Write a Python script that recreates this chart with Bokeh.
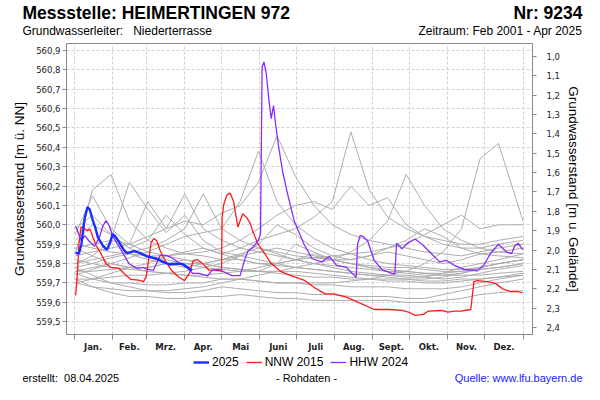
import math
from bokeh.plotting import figure
from bokeh.layouts import column
from bokeh.models import (Range1d, LinearAxis, FixedTicker, CustomJSTickFormatter,
                          Legend, LegendItem)
from bokeh.core.properties import value
from bokeh.embed import file_html
from bokeh.resources import INLINE

# ---------------- data ----------------
month_labels = ["Jan.", "Feb.", "Mrz.", "Apr.", "Mai", "Juni", "Juli",
                "Aug.", "Sept.", "Okt.", "Nov.", "Dez."]
month_starts = [0, 31, 59, 90, 120, 151, 181, 212, 243, 273, 304, 334, 365]
left_ticks = [559.5, 559.6, 559.7, 559.8, 559.9, 560.0, 560.1, 560.2,
              560.3, 560.4, 560.5, 560.6, 560.7, 560.8, 560.9]
right_ticks = [1.0, 1.1, 1.2, 1.3, 1.4, 1.5, 1.6, 1.7, 1.8, 1.9, 2.0,
               2.1, 2.2, 2.3, 2.4]
ground_level = 561.87

# 2025 (blue)
d2025 = [1.3, 4, 6, 8.8, 10.9, 12.8, 15.4, 17.3, 19.4, 23.4, 26.8, 29.5, 31.3,
         33.2, 36.7, 40.7, 43.3, 48.6, 54, 59.3, 67.2, 72.6, 77.9, 83.2, 88.5,
         92.5, 96]
v2025 = [559.856, 559.851, 559.90, 560.037, 560.091, 560.079, 560.02, 559.986,
         559.936, 559.893, 559.871, 559.91, 559.952, 559.944, 559.91, 559.868,
         559.854, 559.864, 559.854, 559.837, 559.825, 559.809, 559.795, 559.80,
         559.797, 559.78, 559.766]

# NNW 2015 (red)
d2015 = [1.3, 2.6, 4, 5.6, 8.2, 10.9, 13, 15.4, 18, 22, 26, 30, 36.7, 40.7,
         46, 52.6, 56.6, 58.7, 60.6, 62.7, 65, 67.2, 70, 74, 79.2, 84.5, 89.8,
         93.8, 97, 100.5, 104.5, 109.8, 113.8, 119.9, 120.4, 121.7, 124.4, 127,
         129.7, 133.2, 135, 137.2, 140.4, 143, 145.7, 149.7, 155, 160.3, 168.3,
         176.2, 186.9, 196.2, 204.2, 210.9, 221.5, 232, 244, 256, 266.6, 272,
         277.3, 284, 288, 298.5, 304, 309, 314.5, 322.5, 325.1, 327.8, 335.8,
         342.4, 349, 354.4, 361, 364.5]
v2015 = [559.636, 559.733, 559.90, 559.989, 559.983, 559.969, 559.978, 559.936,
         559.893, 559.851, 559.80, 559.78, 559.775, 559.749, 559.719, 559.715,
         559.707, 559.733, 559.817, 559.91, 559.93, 559.918, 559.868, 559.817,
         559.766, 559.733, 559.712, 559.749, 559.817, 559.82, 559.80, 559.766,
         559.766, 559.761, 560.037, 560.105, 560.155, 560.164, 560.121, 559.989,
         560.02, 560.057, 560.037, 560.011, 559.96, 559.90, 559.851, 559.80,
         559.758, 559.738, 559.715, 559.673, 559.644, 559.644, 559.627, 559.597,
         559.563, 559.563, 559.558, 559.55, 559.533, 559.538, 559.555, 559.558,
         559.55, 559.555, 559.555, 559.563, 559.707, 559.712, 559.707, 559.698,
         559.668, 559.656, 559.656, 559.648]

# HHW 2024 (purple)
d2024 = [1.3, 3.9, 6, 8.8, 12, 16.7, 20.7, 23.4, 26, 28.8, 31.3, 35.3, 39.3,
         44.7, 51.3, 56.6, 59.3, 64.6, 70, 75.3, 80.6, 87.2, 92.5, 96.5, 101.8,
         108.5, 112.5, 117.8, 123.1, 128.4, 135, 139, 141.7, 145.7, 149.7, 151.6,
         152.9, 154.4, 156.3, 158.4, 160.3, 162.2, 163.7, 166.2, 169.6, 173.6,
         179, 187, 193.5, 201.5, 207.6, 213.5, 221.5, 229.4, 230.5, 232.6, 235,
         238.8, 244, 250.7, 258.7, 260.8, 262.2, 266.6, 272, 277.3, 284, 290.6,
         297.2, 302.5, 309.2, 317.1, 327.8, 333.1, 338.4, 345, 351.8, 355.7,
         358.4, 361, 365]
v2024 = [559.994, 559.952, 559.918, 559.944, 559.918, 559.89, 559.936, 559.994,
         560.02, 559.994, 559.944, 559.90, 559.859, 559.80, 559.775, 559.78,
         559.77, 559.766, 559.842, 559.842, 559.825, 559.797, 559.775, 559.749,
         559.749, 559.736, 559.766, 559.77, 559.753, 559.738, 559.738, 559.825,
         559.868, 559.885, 559.918, 559.952, 560.815, 560.841, 560.781, 560.646,
         560.548, 560.616, 560.527, 560.409, 560.274, 560.16, 560.02, 559.90,
         559.825, 559.809, 559.837, 559.791, 559.78, 559.729, 559.90, 559.945,
         559.94, 559.915, 559.817, 559.766, 559.749, 559.745, 559.905, 559.876,
         559.91, 559.927, 559.893, 559.851, 559.809, 559.817, 559.791, 559.77,
         559.763, 559.791, 559.851, 559.90, 559.859, 559.851, 559.893, 559.905,
         559.871]

# other years 2001-2024 (grey), half-monthly readings
grey_days = [1, 15, 30, 45, 60, 75, 90, 105, 120, 135, 150, 165, 180, 195,
             210, 225, 240, 255, 270, 285, 300, 315, 330, 345, 365]
g01 = [559.72, 559.68, 559.65, 559.63, 559.63, 559.62, 559.62, 559.63, 559.63, 559.64,
       559.63, 559.62, 559.62, 559.61, 559.61, 559.61, 559.61, 559.61, 559.60, 559.60,
       559.61, 559.62, 559.64, 559.65, 559.66]
g02 = [559.78, 559.74, 559.70, 559.68, 559.66, 559.65, 559.65, 559.66, 559.68, 559.67,
       559.66, 559.65, 559.65, 559.64, 559.64, 559.63, 559.63, 559.63, 559.62, 559.62,
       559.64, 559.66, 559.68, 559.70, 559.72]
g03 = [559.85, 560.18, 560.26, 560.02, 559.92, 559.88, 559.85, 559.84, 559.82, 559.82,
       559.80, 559.79, 559.78, 559.77, 559.76, 559.75, 559.74, 559.74, 559.73, 559.73,
       559.72, 559.73, 559.75, 559.77, 559.79]
g04 = [559.80, 559.84, 559.92, 560.22, 560.08, 559.96, 560.05, 559.92, 559.86, 559.84,
       559.82, 559.80, 559.78, 559.77, 559.76, 559.75, 559.74, 559.73, 559.72, 559.71,
       559.71, 559.72, 559.72, 559.73, 559.74]
g05 = [559.76, 559.78, 559.80, 559.83, 559.86, 559.90, 559.94, 559.96, 559.98, 560.12,
       560.38, 560.12, 560.00, 559.93, 559.88, 559.85, 559.82, 559.80, 559.79, 559.78,
       559.77, 559.77, 559.78, 559.80, 559.82]
g06 = [559.88, 559.90, 559.92, 559.90, 559.94, 559.98, 560.02, 560.00, 560.06, 560.10,
       560.22, 560.46, 560.25, 560.10, 560.00, 559.95, 559.92, 559.90, 559.88, 559.86,
       559.85, 559.84, 559.86, 559.88, 559.90]
g07 = [559.70, 559.72, 559.75, 559.78, 559.80, 559.84, 559.86, 559.88, 559.85, 559.88,
       559.92, 559.95, 559.98, 560.04, 560.12, 560.48, 560.18, 560.04, 559.98, 559.94,
       559.92, 559.90, 559.90, 559.92, 559.94]
g08 = [559.78, 559.80, 559.83, 559.85, 559.82, 559.80, 559.78, 559.80, 559.82, 559.85,
       559.88, 559.85, 559.82, 559.80, 559.82, 559.86, 559.92, 560.02, 560.26, 560.10,
       559.98, 559.92, 559.88, 559.86, 559.85]
g09 = [559.74, 559.77, 559.80, 559.78, 559.76, 559.75, 559.74, 559.73, 559.72, 559.72,
       559.71, 559.70, 559.70, 559.70, 559.70, 559.71, 559.72, 559.74, 559.76, 559.80,
       559.86, 559.98, 560.34, 560.42, 560.02]
g10 = [559.92, 560.00, 559.95, 559.88, 559.92, 560.05, 559.95, 559.88, 559.85, 559.82,
       559.80, 559.80, 559.82, 559.85, 559.82, 559.80, 559.78, 559.76, 559.75, 559.74,
       559.74, 559.75, 559.77, 559.78, 559.80]
g11 = [559.84, 559.86, 559.88, 559.90, 560.12, 559.98, 560.16, 559.98, 559.92, 559.88,
       559.86, 559.84, 559.82, 559.80, 559.79, 559.78, 559.77, 559.76, 559.76, 559.75,
       559.75, 559.76, 559.78, 559.80, 559.82]
g12 = [559.80, 559.82, 559.84, 559.86, 559.88, 559.92, 559.98, 560.16, 559.98, 559.92,
       559.88, 559.86, 559.84, 559.83, 559.82, 559.80, 559.79, 559.78, 559.78, 559.77,
       559.76, 559.76, 559.77, 559.78, 559.80]
g13 = [559.90, 559.88, 559.86, 559.85, 559.84, 559.84, 559.85, 559.86, 559.88, 559.92,
       559.98, 560.05, 560.10, 560.12, 560.08, 560.20, 560.10, 560.14, 560.00, 559.94,
       559.90, 559.88, 559.88, 559.90, 559.92]
g14 = [559.82, 559.80, 559.78, 559.77, 559.76, 559.75, 559.74, 559.74, 559.75, 559.76,
       559.78, 559.80, 559.82, 559.83, 559.84, 559.85, 559.86, 559.88, 559.90, 559.95,
       560.00, 560.05, 559.98, 560.00, 560.00]
g15 = [559.75, 559.72, 559.70, 559.70, 559.69, 559.69, 559.70, 559.70, 559.72, 559.72,
       559.71, 559.70, 559.70, 559.69, 559.69, 559.68, 559.68, 559.68, 559.67, 559.67,
       559.67, 559.68, 559.70, 559.72, 559.74]
g16 = [559.88, 559.84, 559.80, 559.78, 559.78, 559.80, 559.82, 559.80, 559.78, 559.77,
       559.76, 559.76, 559.78, 559.80, 559.78, 559.76, 559.75, 559.74, 559.74, 559.73,
       559.75, 559.78, 559.80, 559.82, 559.85]
g17 = [559.98, 560.05, 559.95, 559.88, 559.84, 559.82, 559.80, 559.78, 559.77, 559.76,
       559.76, 559.80, 559.90, 559.86, 559.82, 559.80, 559.78, 559.77, 559.76, 559.75,
       559.74, 559.74, 559.74, 559.75, 559.76]
g18 = [559.72, 559.72, 559.73, 559.74, 559.74, 559.75, 559.76, 559.78, 559.80, 559.84,
       559.90, 560.00, 559.95, 559.88, 559.84, 559.82, 559.84, 559.86, 559.84, 559.82,
       559.80, 559.82, 559.85, 559.86, 559.88]
g19 = [559.76, 559.76, 559.77, 559.78, 559.78, 559.80, 559.80, 559.80, 559.82, 559.84,
       559.86, 559.88, 559.86, 559.84, 559.82, 559.82, 559.84, 559.88, 559.92, 559.98,
       559.94, 559.88, 559.85, 559.84, 559.83]
g20 = [559.70, 559.68, 559.67, 559.66, 559.66, 559.66, 559.67, 559.68, 559.70, 559.72,
       559.74, 559.76, 559.76, 559.75, 559.74, 559.73, 559.72, 559.72, 559.72, 559.72,
       559.73, 559.75, 559.78, 559.80, 559.82]
g21 = [559.95, 560.15, 559.98, 559.90, 559.86, 559.84, 559.82, 559.80, 559.78, 559.77,
       559.76, 559.75, 559.74, 559.73, 559.73, 559.72, 559.72, 559.71, 559.71, 559.70,
       559.70, 559.71, 559.72, 559.73, 559.75]
grey_series = [g01, g02, g03, g04, g05, g06, g07, g08, g09, g10, g11,
               g12, g13, g14, g15, g16, g17, g18, g19, g20, g21]

# ---------------- layout ----------------
W = 584
HEAD_H, MAIN_H, FOOT_H = 39, 315, 30
FL, FW, FTOP, FH = 66, 472, 4, 292
y_lo, y_hi = 559.434, 560.936
ARIAL = "Liberation Sans"
tick_font = "DejaVu Sans"

C_2025, C_2015, C_2024 = "#1a2eff", "#ff1a1a", "#8a2cff"
W_2025, W_OTHER = 2.4, 1.3


def text_panel(height):
    f = figure(width=W, height=height, output_backend="svg", toolbar_location=None,
               x_range=Range1d(0, W), y_range=Range1d(0, height),
               x_axis_location=None, y_axis_location=None,
               min_border=0, min_border_left=0, min_border_right=0,
               min_border_top=0, min_border_bottom=0, frame_align=False)
    f.grid.visible = False
    f.outline_line_color = None
    return f


def put(f, height, text, cx, cy, size, align="left", bold=False, color="black"):
    f.text(x=[cx], y=[height - cy], text=[text], text_font=value(ARIAL),
           text_font_size=value(size), text_align=align, text_baseline="middle",
           text_color=color, text_font_style="bold" if bold else "normal")


# header
head = text_panel(HEAD_H)
put(head, HEAD_H, "Messstelle: HEIMERTINGEN 972", 22, 12, "17.5px", bold=True)
put(head, HEAD_H, "Nr: 9234", 582, 12, "17.5px", align="right", bold=True)
put(head, HEAD_H, "Grundwasserleiter:\u00a0\u00a0\u00a0Niederterrasse", 22, 30, "12px")
put(head, HEAD_H, "Zeitraum: Feb 2001 - Apr 2025", 582, 30, "12px", align="right")

# main chart
p = figure(width=W, height=MAIN_H, output_backend="svg", toolbar_location=None,
           x_range=Range1d(-6.1, 372.7), y_range=Range1d(y_lo, y_hi),
           min_border_left=FL, min_border_top=FTOP,
           min_border_right=W - FL - FW, min_border_bottom=MAIN_H - FTOP - FH,
           background_fill_color="white", border_fill_color="white",
           frame_align=False)
p.outline_line_color = "#8a8a8a"

fmt_code = "return tick.toFixed(1).replace('.', ',');"

ya = p.yaxis[0]
ya.ticker = FixedTicker(ticks=left_ticks, minor_ticks=[])
ya.formatter = CustomJSTickFormatter(code=fmt_code)
ya.axis_label = "Grundwasserstand [m ü. NN]"

p.extra_y_ranges = {"depth": Range1d(start=ground_level - y_lo, end=ground_level - y_hi)}
ra = LinearAxis(y_range_name="depth",
                ticker=FixedTicker(ticks=right_ticks, minor_ticks=[]),
                formatter=CustomJSTickFormatter(code=fmt_code),
                axis_label="Grundwasserstand [m u. Gelände]")
p.add_layout(ra, "right")

for ax, standoff, lstand in ((ya, 2, 6), (ra, 10, 3)):
    ax.major_label_text_font = tick_font
    ax.major_label_text_font_size = "8.5px"
    ax.major_label_text_color = "#222222"
    ax.major_tick_out = 4
    ax.major_tick_in = 0
    ax.major_label_standoff = standoff
    ax.axis_line_color = "#8a8a8a"
    ax.major_tick_line_color = "#8a8a8a"
    ax.axis_label_text_font = ARIAL
    ax.axis_label_text_font_size = "13.5px"
    ax.axis_label_text_font_style = "normal"
    ax.axis_label_text_color = "black"
    ax.axis_label_standoff = lstand

centres = [(month_starts[i] + month_starts[i + 1]) / 2 for i in range(12)]
xa = p.xaxis[0]
xa.ticker = FixedTicker(ticks=centres, minor_ticks=month_starts)
xa.formatter = CustomJSTickFormatter(args={"labels": month_labels},
                                     code="return labels[index];")
xa.major_tick_out = 0
xa.major_tick_in = 0
xa.minor_tick_out = 5
xa.minor_tick_in = 0
xa.minor_tick_line_color = "#8a8a8a"
xa.axis_line_color = "#8a8a8a"
xa.major_label_text_font = tick_font
xa.major_label_text_font_style = "bold"
xa.major_label_text_font_size = "8.5px"
xa.major_label_text_color = "#222222"
xa.major_label_standoff = 2

p.xgrid.ticker = FixedTicker(ticks=month_starts)
p.ygrid.ticker = FixedTicker(ticks=left_ticks)
for g in (p.xgrid[0], p.ygrid[0]):
    g.grid_line_color = "#d2d2d2"
    g.grid_line_dash = "3 2"
    g.grid_line_width = 1

for gs in grey_series:
    p.line(grey_days, gs, line_color="#adadad", line_width=1)

p.line(d2015, v2015, line_color=C_2015, line_width=W_OTHER)
p.line(d2024, v2024, line_color=C_2024, line_width=W_OTHER)
p.line(d2025, v2025, line_color=C_2025, line_width=W_2025)

# footer: legend + credits.  The legend renderers carry the real series, which
# lie far outside this strip's pixel ranges, so only their swatches are drawn.
foot = text_panel(FOOT_H)
k25 = foot.line(x=d2025, y=v2025, line_color=C_2025, line_width=W_2025)
k15 = foot.line(x=d2015, y=v2015, line_color=C_2015, line_width=W_OTHER)
k24 = foot.line(x=d2024, y=v2024, line_color=C_2024, line_width=W_OTHER)
legend = Legend(items=[LegendItem(label="2025", renderers=[k25]),
                       LegendItem(label="NNW 2015", renderers=[k15]),
                       LegendItem(label="HHW 2024", renderers=[k24])],
                orientation="horizontal", location=(193, FOOT_H - 15),
                glyph_width=16, glyph_height=12, label_height=12,
                label_standoff=3, spacing=7, padding=0, margin=0,
                label_text_font=ARIAL, label_text_font_size="12px",
                label_text_color="black", label_text_baseline="middle",
                border_line_color=None, background_fill_alpha=0)
foot.add_layout(legend, "center")
put(foot, FOOT_H, "erstellt:\u00a0\u00a008.04.2025", 22, 23, "11px")
put(foot, FOOT_H, "- Rohdaten -", 306, 23, "11px", align="center")
put(foot, FOOT_H, "Quelle: www.lfu.bayern.de", 582, 23, "11px", align="right",
    color="#1a1aff")

layout = column(head, p, foot, spacing=0)
open("out.html", "w").write(file_html(layout, INLINE))
